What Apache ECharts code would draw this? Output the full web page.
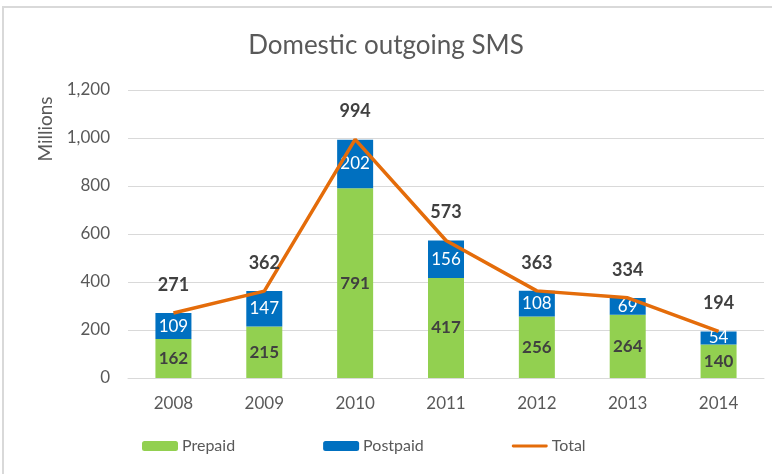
<!DOCTYPE html>
<html>
<head>
<meta charset="utf-8">
<script src="https://cdn.jsdelivr.net/npm/echarts@6/dist/echarts.min.js"></script>
<style>
  html, body { margin: 0; padding: 0; background: #fff; }
  #chart { width: 772px; height: 474px; }
</style>
</head>
<body>
<div id="chart"></div>
<script>
const years = ['2008', '2009', '2010', '2011', '2012', '2013', '2014'];
const prepaid = [162, 215, 791, 417, 256, 264, 140];
const postpaid = [109, 147, 202, 156, 108, 69, 54];
const total = [271, 362, 994, 573, 363, 334, 194];

const font = 'Lato, "Noto Sans", sans-serif';
const grey = '#595959';

const chart = echarts.init(document.getElementById('chart'));

chart.setOption({
  backgroundColor: '#fff',
  animation: false,
  textStyle: { fontFamily: font },
  graphic: [
    {
      type: 'rect',
      shape: { x: 3, y: 7, width: 800, height: 500 },
      style: { fill: 'none', stroke: '#d9d9d9', lineWidth: 2 },
      z: -1
    },
    {
      // y axis title
      type: 'text',
      x: 46,
      y: 129,
      rotation: Math.PI / 2,
      style: {
        text: 'Millions',
        font: '19px ' + font,
        fill: grey,
        align: 'center',
        verticalAlign: 'middle'
      }
    }
  ],
  title: {
    text: 'Domestic outgoing SMS',
    left: 'center',
    top: 28,
    textStyle: { fontFamily: font, fontSize: 26, fontWeight: 'normal', color: grey }
  },
  legend: {
    bottom: 15,
    left: 137,
    itemGap: 88,
    itemWidth: 36,
    itemHeight: 10,
    textStyle: { fontFamily: font, fontSize: 16, color: grey, padding: [0, 0, 0, -1] },
    data: [
      'Prepaid',
      'Postpaid',
      { name: 'Total', icon: 'path://M2,0 h36 a1.5,1.5 0 0 1 0,3 h-36 a1.5,1.5 0 0 1 0,-3 z' }
    ]
  },
  grid: { left: 128, right: 8, top: 90, bottom: 96 },
  xAxis: {
    type: 'category',
    data: years,
    axisLine: { lineStyle: { color: '#d9d9d9' } },
    axisTick: { show: false },
    axisLabel: { fontFamily: font, fontSize: 17, color: grey, margin: 17 }
  },
  yAxis: {
    type: 'value',
    min: 0,
    max: 1200,
    interval: 200,
    axisLine: { show: false },
    axisTick: { show: false },
    splitLine: { lineStyle: { color: '#d9d9d9' } },
    axisLabel: {
      fontFamily: font, fontSize: 17, color: grey, margin: 18,
      formatter: v => v.toLocaleString('en-US')
    }
  },
  series: [
    {
      name: 'Prepaid',
      type: 'bar',
      stack: 'sms',
      data: prepaid,
      barWidth: 36,
      itemStyle: { color: '#92D050' },
      label: { show: true, position: 'inside', fontFamily: font, fontSize: 17, fontWeight: 'bold', color: '#404040' }
    },
    {
      name: 'Postpaid',
      type: 'bar',
      stack: 'sms',
      data: postpaid,
      barWidth: 36,
      itemStyle: { color: '#0070C0' },
      label: { show: true, position: 'inside', fontFamily: font, fontSize: 17, color: '#fff' }
    },
    {
      name: 'Total',
      type: 'line',
      data: total,
      symbol: 'circle',
      symbolSize: 0.1,
      showSymbol: true,
      lineStyle: { color: '#E46C0A', width: 3.5 },
      itemStyle: { color: '#E46C0A' },
      label: { show: true, position: 'top', distance: 19, fontFamily: font, fontSize: 18, fontWeight: 'bold', color: '#404040' },
      z: 5
    }
  ]
});
</script>
</body>
</html>
